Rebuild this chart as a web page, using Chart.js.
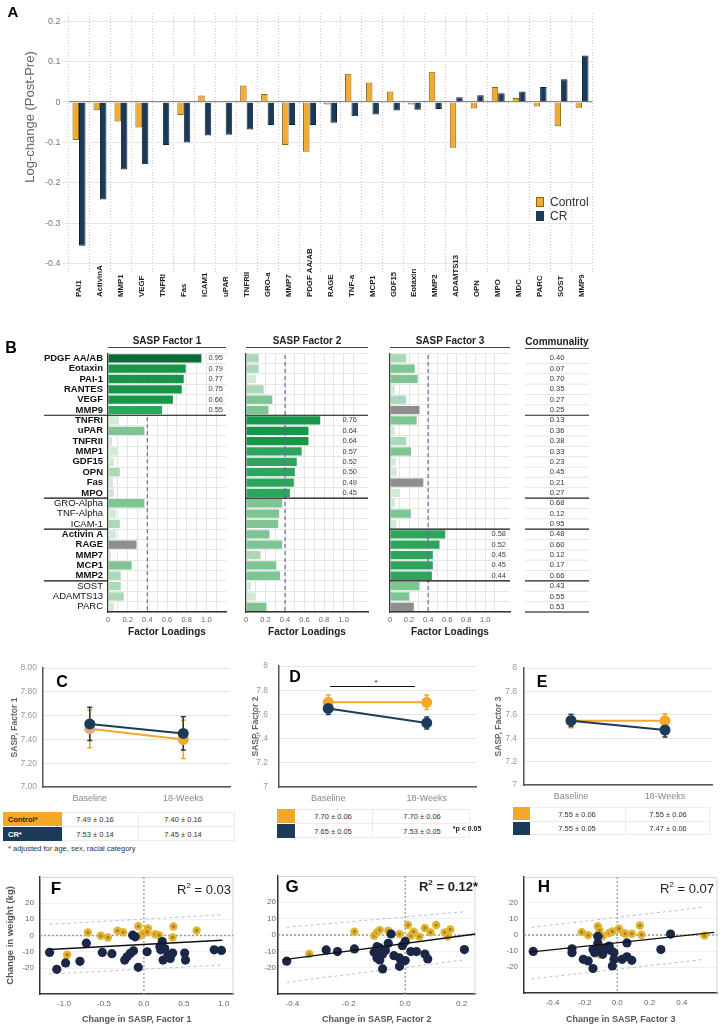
<!DOCTYPE html>
<html>
<head>
<meta charset="utf-8">
<title>SASP factors</title>
<script src="https://cdn.jsdelivr.net/npm/chart.js@4.4.1/dist/chart.umd.min.js"></script>
<style>
  body { margin: 0; background: #fff; font-family: "Liberation Sans", Arial, sans-serif; }
  #page { position: relative; width: 724px; height: 1027px; overflow: hidden; }
  #page canvas { position: absolute; }
  .t { position: absolute; white-space: nowrap; line-height: 1; }
  .b { position: absolute; box-sizing: border-box; }
  .head { position: absolute; font-weight: bold; font-size: 10px; color: #222; text-align: center;
          line-height: 12px; border-bottom: 1.5px solid #444; }
</style>
</head>
<body>
<div id="page">
  <canvas id="cA" width="724" height="310" style="left:0;top:0"></canvas>
  <canvas id="cB1" width="236" height="315" style="left:0;top:330px"></canvas>
  <canvas id="cB2" width="140" height="315" style="left:236px;top:330px"></canvas>
  <canvas id="cB3" width="230" height="315" style="left:376px;top:330px"></canvas>
  <canvas id="cC" width="240" height="160" style="left:0;top:650px"></canvas>
  <canvas id="cD" width="245" height="160" style="left:240px;top:650px"></canvas>
  <canvas id="cE" width="239" height="160" style="left:485px;top:650px"></canvas>
  <canvas id="cF" width="240" height="162" style="left:0;top:865px"></canvas>
  <canvas id="cG" width="242" height="162" style="left:240px;top:865px"></canvas>
  <canvas id="cH" width="242" height="162" style="left:482px;top:865px"></canvas>

  <div class="head" style="left:108px;top:335px;width:118px">SASP Factor 1</div>
  <div class="head" style="left:246px;top:335px;width:122px">SASP Factor 2</div>
  <div class="head" style="left:390px;top:335px;width:120px">SASP Factor 3</div>
  <div class="head" style="left:525px;top:336px;width:64px">Communality</div>
</div>
<script>
// ---- A: log-change per marker ----
const markers = ['PAI1', 'ActivinA', 'MMP1', 'VEGF', 'TNFRI', 'Fas', 'ICAM1', 'uPAR', 'TNFRII', 'GRO-a',
  'MMP7', 'PDGF AA/AB', 'RAGE', 'TNF-a', 'MCP1', 'GDF15', 'Eotaxin', 'MMP2', 'ADAMTS13', 'OPN',
  'MPO', 'MDC', 'PARC', 'SOST', 'MMP9'];
const changeControl = [-0.094, -0.020, -0.048, -0.063, 0.001, -0.032, 0.016, 0.002, 0.041, 0.020,
  -0.106, -0.123, -0.006, 0.070, 0.048, 0.026, -0.006, 0.075, -0.113, -0.016,
  0.037, 0.010, -0.011, -0.060, -0.014];
const changeCR = [-0.355, -0.241, -0.167, -0.154, -0.106, -0.100, -0.083, -0.081, -0.068, -0.057,
  -0.057, -0.057, -0.051, -0.035, -0.031, -0.021, -0.019, -0.017, 0.012, 0.017,
  0.022, 0.026, 0.037, 0.056, 0.115];
const changeTicks = [-0.4, -0.3, -0.2, -0.1, 0, 0.1, 0.2];

// ---- B: factor loadings (negative = inverse loading) ----
const rows = ['PDGF AA/AB', 'Eotaxin', 'PAI-1', 'RANTES', 'VEGF', 'MMP9',
  'TNFRI', 'uPAR', 'TNFRII', 'MMP1', 'GDF15', 'OPN', 'Fas', 'MPO',
  'GRO-Alpha', 'TNF-Alpha', 'ICAM-1',
  'Activin A', 'RAGE', 'MMP7', 'MCP1', 'MMP2',
  'SOST', 'ADAMTS13', 'PARC'];
const rowGroup = [1, 1, 1, 1, 1, 1, 2, 2, 2, 2, 2, 2, 2, 2, 3, 3, 3, 4, 4, 4, 4, 4, 5, 5, 5];
const factor1 = [0.95, 0.79, 0.77, 0.75, 0.66, 0.55,
  0.11, 0.37, -0.04, 0.10, 0.06, 0.12, 0.05, -0.06,
  0.37, 0.08, 0.12,
  0.08, -0.29, -0.03, 0.24, 0.13,
  0.13, 0.16, 0.06];
const factor2 = [0.13, 0.13, 0.09, 0.18, 0.27, 0.23,
  0.76, 0.64, 0.64, 0.57, 0.52, 0.50, 0.49, 0.45,
  0.37, 0.34, 0.33,
  0.24, 0.37, 0.15, 0.31, 0.35,
  0.05, 0.09, 0.21];
const factor3 = [0.17, 0.26, 0.29, 0.05, 0.17, -0.31,
  0.28, 0.05, 0.17, 0.22, 0.06, 0.07, -0.35, 0.10,
  0.05, 0.22, 0.07,
  0.58, 0.52, 0.45, 0.45, 0.44,
  0.31, 0.20, -0.25];
const communality = [0.40, 0.07, 0.70, 0.35, 0.27, 0.25, 0.13, 0.36, 0.38, 0.33, 0.23, 0.45, 0.21,
  0.27, 0.68, 0.12, 0.95, 0.48, 0.60, 0.12, 0.17, 0.66, 0.43, 0.55, 0.53];
const loadingTicks = [0, 0.2, 0.4, 0.6, 0.8, 1.0];

// ---- C-E: SASP factor means ± SE ----
const timepoints = ['Baseline', '18-Weeks'];
const sasp1Control = [7.49, 7.40], sasp1ControlSE = [0.16, 0.16];
const sasp1CR = [7.53, 7.45], sasp1CRSE = [0.14, 0.14];
const sasp2Control = [7.70, 7.70], sasp2ControlSE = [0.06, 0.06];
const sasp2CR = [7.65, 7.53], sasp2CRSE = [0.05, 0.05];
const sasp3Control = [7.55, 7.55], sasp3ControlSE = [0.06, 0.06];
const sasp3CR = [7.55, 7.47], sasp3CRSE = [0.05, 0.06];
const saspTicks = [7, 7.2, 7.4, 7.6, 7.8, 8];

// ---- F-H: change in weight vs change in SASP factor ----
const weightTicks = [-20, -10, 0, 10, 20];
const f1CR = [[-1.18, -10.4], [-1.09, -20.8], [-0.98, -16.9], [-0.80, -15.9], [-0.72, -4.7], [-0.52, -10.4],
  [-0.40, -11.2], [-0.24, -15.1], [-0.21, -13.1], [-0.17, -11.0], [-0.13, -9.4], [-0.14, 0.2], [-0.11, -0.8],
  [-0.07, -19.6], [0.04, -10.0], [0.20, -6.9], [0.23, -3.7], [0.21, -8.8], [0.26, -8.0], [0.24, -15.1],
  [0.30, -12.0], [0.33, -14.1], [0.36, -10.8], [0.51, -10.8], [0.52, -15.1], [0.88, -8.8], [0.97, -9.2]];
const f1Control = [[-0.96, -11.8], [-0.70, 1.8], [-0.54, -0.2], [-0.45, -1.2], [-0.33, 2.9], [-0.26, 2.0],
  [-0.07, 5.7], [0.05, 4.3], [-0.01, 1.2], [0.04, 2.2], [0.14, 0.8], [0.19, 0.2], [0.37, 5.5], [0.36, -1.2],
  [0.66, 3.1], [-0.06, -0.4]];
const f1Fit = [[-1.18, -8.6], [0.98, -2.9]];
const f1Upper = [[-1.18, 6.9], [0.98, 12.7]];
const f1Lower = [[-1.18, -23.7], [0.98, -18.2]];
const f1Ticks = [-1, -0.5, 0, 0.5, 1];

const f2CR = [[-0.42, -16.0], [-0.28, -9.1], [-0.24, -10.1], [-0.18, -8.5], [-0.11, -10.5], [-0.10, -7.1],
  [-0.10, -14.0], [-0.08, -11.6], [-0.08, -20.7], [-0.07, -9.5], [-0.06, -5.1], [-0.05, 0.6], [-0.04, -12.6],
  [-0.02, -14.0], [-0.02, -19.1], [-0.01, -6.5], [0.00, -15.6], [0.00, -3.9], [0.02, -10.1], [0.04, -10.1],
  [0.07, -11.6], [0.08, -14.6], [0.21, -8.9], [-0.09, -7.9], [-0.09, -15.2]];
const f2Control = [[-0.34, -11.6], [-0.18, 2.0], [-0.11, -0.4], [-0.10, 1.6], [-0.09, 3.0], [-0.06, 2.6],
  [-0.02, 0.6], [0.01, 6.1], [0.02, -0.4], [0.03, 2.0], [0.05, -1.0], [0.07, 4.3], [0.09, 1.6], [0.11, 6.1],
  [0.14, 1.6], [0.16, 3.4], [0.15, -1.0]];
const f2Fit = [[-0.435, -15.2], [0.25, 0.6]];
const f2Upper = [[-0.42, 4.7], [0.21, 14.2]];
const f2Lower = [[-0.42, -28.8], [0.21, -15.2]];
const f2Ticks = [-0.4, -0.2, 0, 0.2];

const f3CR = [[-0.52, -10.2], [-0.28, -8.6], [-0.28, -11.0], [-0.21, -15.1], [-0.18, -16.1], [-0.15, -20.8],
  [-0.15, -9.0], [-0.14, -11.0], [-0.12, -0.8], [-0.12, -4.9], [-0.11, -8.0], [-0.10, -10.0], [-0.09, -12.0],
  [-0.07, -8.0], [-0.05, -6.9], [-0.04, -9.6], [-0.02, -11.0], [-0.02, -15.1], [-0.03, -19.2], [0.03, -15.1],
  [0.06, -13.5], [0.09, -15.7], [0.06, -4.9], [0.27, -9.0], [0.33, 0.6]];
const f3Control = [[-0.22, 1.8], [-0.18, -0.2], [-0.12, 5.5], [-0.11, 2.9], [-0.09, -0.8], [-0.11, -12.0],
  [-0.05, 1.2], [-0.03, 2.2], [0.01, 3.9], [0.04, 1.2], [0.05, 0.8], [0.09, 0.8], [0.14, 5.9], [0.15, 0.2],
  [0.54, -0.4]];
const f3Fit = [[-0.54, -10.6], [0.60, 1.6]];
const f3Upper = [[-0.53, 4.7], [0.54, 17.3]];
const f3Lower = [[-0.53, -27.3], [0.54, -15.1]];
const f3Ticks = [-0.4, -0.2, 0, 0.2, 0.4];

// ---------------------------------------------------------------
const FONT = '"Liberation Sans", Arial, sans-serif';
const ORANGE = '#f3a82a', NAVY = '#1c3a5a';
Chart.defaults.font.family = FONT;
Chart.defaults.animation = false;
Chart.defaults.plugins.legend.display = false;
Chart.defaults.plugins.tooltip.enabled = false;

const page = document.getElementById('page');
const fitW = w => s => { s.width = w; };
const fitH = h => s => { s.height = h; };
const setTicks = list => s => { s.ticks = list.map(v => ({ value: v })); };

function place(html, x, y, css, anchor, rotate) {
  const d = document.createElement('div');
  d.className = 't';
  d.innerHTML = html;
  d.style.cssText = css;
  d.style.left = x + 'px';
  d.style.top = y + 'px';
  const tx = anchor === 'left' ? '0' : anchor === 'right' ? '-100%' : '-50%';
  d.style.transform = 'translate(' + tx + ',-50%)' + (rotate ? ' rotate(-90deg)' : '');
  page.appendChild(d);
}
function box(x, y, w, h, css) {
  const d = document.createElement('div');
  d.className = 'b';
  d.style.cssText = 'left:' + x + 'px;top:' + y + 'px;width:' + w + 'px;height:' + h + 'px;' + css;
  page.appendChild(d);
}
function hline(ctx, x0, x1, y) { ctx.beginPath(); ctx.moveTo(x0, y); ctx.lineTo(x1, y); ctx.stroke(); }

// ---------- A ----------
const rotatedLabels = {
  id: 'rotatedLabels',
  afterDraw(chart) {
    const { ctx, chartArea, scales: { x } } = chart;
    ctx.save();
    ctx.font = 'bold 7.8px ' + FONT;
    ctx.fillStyle = '#222';
    ctx.textAlign = 'left';
    ctx.textBaseline = 'middle';
    chart.data.labels.forEach((lab, i) => {
      ctx.save();
      ctx.translate(x.getPixelForValue(i), chartArea.bottom + 25);
      ctx.rotate(-Math.PI / 2);
      ctx.fillText(lab, 0, 0);
      ctx.restore();
    });
    ctx.restore();
  }
};

new Chart(document.getElementById('cA'), {
  type: 'bar',
  data: {
    labels: markers,
    datasets: [
      { label: 'Control', data: changeControl, backgroundColor: '#f2ab2f', borderColor: '#8a6516', borderWidth: 1,
        categoryPercentage: 0.62, barPercentage: 1 },
      { label: 'CR', data: changeCR, backgroundColor: '#1b3a57', borderColor: '#0f2438', borderWidth: 1,
        categoryPercentage: 0.62, barPercentage: 1 }
    ]
  },
  options: {
    responsive: false, devicePixelRatio: 1, events: [],
    layout: { padding: { top: 13, right: 131.5, left: 0, bottom: 0 } },
    scales: {
      x: { ticks: { display: false }, grid: { color: '#c9c9c9', drawTicks: false },
           border: { display: false, dash: [1, 2] }, afterFit: fitH(38) },
      y: { min: -0.42, max: 0.22, afterBuildTicks: setTicks(changeTicks),
           ticks: { padding: 2, color: '#777', font: { size: 9 } },
           grid: { color: c => (c.tick && c.tick.value === 0 ? '#8a8a8a' : '#e6e6e6'),
                   lineWidth: c => (c.tick && c.tick.value === 0 ? 1.3 : 1),
                   tickLength: 6, tickColor: '#e6e6e6' },
           border: { display: false }, afterFit: fitW(68.5) }
    }
  },
  plugins: [rotatedLabels]
});

// ---------- B ----------
function barColor(v, primary) {
  const a = Math.abs(v);
  if (v < 0) return a >= 0.2 ? '#8e8e8e' : '#d9dbe8';
  if (primary) return a >= 0.9 ? '#0b6a35' : a >= 0.6 ? '#17964a' : '#2ca65c';
  return a >= 0.2 ? '#7fc594' : a >= 0.12 ? '#abd8b7' : '#d0ead6';
}
const loadedGroups = [1, 2, 4];

const loadingsPlugin = {
  id: 'loadings',
  beforeDatasetsDraw(chart, args, o) { if (!o.dashOnTop) drawCutoff(chart, o); },
  afterDatasetsDraw(chart, args, o) {
    if (o.dashOnTop) drawCutoff(chart, o);
    const { ctx, chartArea: a, scales: { y } } = chart;
    const edge = i => (y.getPixelForValue(i - 1) + y.getPixelForValue(i)) / 2;
    const breaks = rowGroup.map((g, i) => i).filter(i => i > 0 && rowGroup[i] !== rowGroup[i - 1]);
    ctx.save();
    ctx.strokeStyle = '#111';
    ctx.lineWidth = 1.2;
    const first = rowGroup.indexOf(o.group), last = rowGroup.lastIndexOf(o.group);
    [first, last + 1].forEach(i => { if (i > 0 && i < rows.length) hline(ctx, a.left, a.right, edge(i)); });
    if (o.labels) breaks.forEach(i => hline(ctx, a.left - 64, a.left, edge(i)));
    ctx.font = '7.5px ' + FONT;
    ctx.fillStyle = '#444';
    ctx.textAlign = 'right';
    ctx.textBaseline = 'middle';
    const vals = chart.data.datasets[0].data;
    rows.forEach((r, i) => {
      if (rowGroup[i] === o.group) ctx.fillText(vals[i].toFixed(2), a.right - o.valueInset, y.getPixelForValue(i));
    });
    if (o.communality) {
      const x0 = a.right + 15, x1 = a.right + 79;
      rows.forEach((r, i) => {
        if (i > 0) {
          const major = breaks.includes(i);
          ctx.strokeStyle = major ? '#222' : '#e6e6e6';
          ctx.lineWidth = major ? 1.2 : 1;
          hline(ctx, x0, x1, edge(i));
        }
      });
      ctx.strokeStyle = '#555';
      ctx.lineWidth = 1.6;
      hline(ctx, x0, x1, a.bottom);
      ctx.textAlign = 'center';
      ctx.fillStyle = '#333';
      communality.forEach((c, i) => ctx.fillText(c.toFixed(2), a.right + 47, y.getPixelForValue(i)));
    }
    ctx.restore();
  }
};
function drawCutoff(chart, o) {
  const { ctx, chartArea: a, scales: { x, y } } = chart;
  const cx = x.getPixelForValue(0.4);
  const top = o.dashFrom ? (y.getPixelForValue(o.dashFrom - 1) + y.getPixelForValue(o.dashFrom)) / 2 + 2 : a.top + 2;
  ctx.save();
  ctx.strokeStyle = '#6b6aa3';
  ctx.lineWidth = 1.2;
  ctx.setLineDash([4, 3]);
  ctx.beginPath(); ctx.moveTo(cx, top); ctx.lineTo(cx, a.bottom); ctx.stroke();
  ctx.restore();
}

function loadingChart(id, values, group, xMax, extra) {
  return new Chart(document.getElementById(id), {
    type: 'bar',
    data: {
      labels: rows,
      datasets: [{ data: values.map(Math.abs), backgroundColor: values.map((v, i) => barColor(v, rowGroup[i] === group)),
                   barPercentage: 0.8, categoryPercentage: 1 }]
    },
    options: {
      responsive: false, devicePixelRatio: 1, events: [], indexAxis: 'y',
      layout: { padding: { top: 23.1, right: extra.padRight, left: 0, bottom: 0 } },
      scales: {
        x: { min: 0, max: xMax, afterBuildTicks: setTicks([0, 0.1, 0.2, 0.3, 0.4, 0.5, 0.6, 0.7, 0.8, 0.9, 1.0, 1.1]),
             ticks: { padding: 3, color: '#666', font: { size: 7.5 }, autoSkip: false, maxRotation: 0,
                      callback: v => (loadingTicks.includes(v) ? (v === 0 ? '0' : v.toFixed(1)) : '') },
             grid: { color: '#e4e4e4', drawTicks: false },
             border: { color: '#333', width: 1.5 },
             title: { display: true, text: 'Factor Loadings', color: '#222', font: { size: 10, weight: 'bold' },
                      padding: { top: 0, bottom: 7 } },
             afterFit: fitH(33) },
        y: { ticks: { display: !!extra.labels, autoSkip: false, color: '#111', padding: 5,
                      font: c => ({ size: 9.5, weight: loadedGroups.includes(rowGroup[c.index]) ? 'bold' : 'normal' }) },
             grid: { color: '#e6e6e6', drawTicks: false },
             border: { color: '#333', width: 1.2 },
             afterFit: fitW(extra.axisWidth) }
      },
      plugins: { loadings: Object.assign({ group }, extra) }
    },
    plugins: [loadingsPlugin]
  });
}
loadingChart('cB1', factor1, 1, 1.2, { labels: true, axisWidth: 108, padRight: 10, valueInset: 3,
  dashOnTop: true, dashFrom: rowGroup.lastIndexOf(1) + 1 });
loadingChart('cB2', factor2, 2, 1.25, { axisWidth: 10, padRight: 8, valueInset: 11, dashOnTop: true });
loadingChart('cB3', factor3, 4, 1.26, { axisWidth: 14, padRight: 96, valueInset: 4, dashOnTop: true, communality: true });

// ---------- C-E ----------
const errorBars = {
  id: 'errorBars',
  beforeDatasetsDraw(chart) {
    const { ctx, scales: { y } } = chart;
    ctx.save();
    chart.data.datasets.forEach((ds, di) => {
      const meta = chart.getDatasetMeta(di);
      ctx.strokeStyle = ds.borderColor;
      ctx.lineWidth = 1.5;
      ds.data.forEach((v, i) => {
        const px = meta.data[i].x;
        const t = y.getPixelForValue(v + ds.errors[i]), b = y.getPixelForValue(v - ds.errors[i]);
        ctx.beginPath();
        ctx.moveTo(px, t); ctx.lineTo(px, b);
        ctx.moveTo(px - 2.5, t); ctx.lineTo(px + 2.5, t);
        ctx.moveTo(px - 2.5, b); ctx.lineTo(px + 2.5, b);
        ctx.stroke();
      });
    });
    ctx.restore();
  }
};
function saspChart(id, control, controlSE, cr, crSE, o) {
  return new Chart(document.getElementById(id), {
    type: 'line',
    data: {
      labels: timepoints,
      datasets: [
        { data: control, errors: controlSE, borderColor: ORANGE, borderWidth: 2,
          pointBackgroundColor: o.controlPoints || ORANGE, pointBorderWidth: 0, pointRadius: 5.5, order: 2 },
        { data: cr, errors: crSE, borderColor: NAVY, borderWidth: 2,
          pointBackgroundColor: NAVY, pointBorderWidth: 0, pointRadius: 5.5, order: 1 }
      ]
    },
    options: {
      responsive: false, devicePixelRatio: 1, events: [],
      layout: { padding: { top: o.top, right: o.right, left: 0, bottom: 0 } },
      scales: {
        x: { offset: true, grid: { display: false, drawTicks: false }, border: { color: '#555', width: 1.5 },
             ticks: { color: '#888', font: { size: 9 }, padding: 6 }, afterFit: fitH(o.xh) },
        y: { min: 7, max: 8, afterBuildTicks: setTicks(saspTicks),
             ticks: { color: '#999', font: { size: 8.5 }, padding: o.tickPad, callback: o.fmt },
             grid: { color: '#e6e6e6', drawTicks: false },
             border: { color: '#555', width: 1.5 },
             title: { display: true, text: o.title, color: '#666', font: { size: 8.5, weight: 'bold' },
                      padding: { top: o.titlePad, bottom: 0 } },
             afterFit: fitW(o.yw) }
      }
    },
    plugins: [errorBars]
  });
}
saspChart('cC', sasp1Control, sasp1ControlSE, sasp1CR, sasp1CRSE,
  { title: 'SASP, Factor 1', yw: 43, right: 10, top: 18, xh: 23, titlePad: 10, tickPad: 6,
    fmt: v => v.toFixed(2), controlPoints: ['#e9a67c', ORANGE] });
saspChart('cD', sasp2Control, sasp2ControlSE, sasp2CR, sasp2CRSE,
  { title: 'SASP, Factor 2', yw: 39, right: 9, top: 15, xh: 23, titlePad: 11, tickPad: 11, fmt: v => String(v) });
saspChart('cE', sasp3Control, sasp3ControlSE, sasp3CR, sasp3CRSE,
  { title: 'SASP, Factor 3', yw: 39, right: 12, top: 18, xh: 25, titlePad: 9, tickPad: 7, fmt: v => String(v) });

// ---------- F-H ----------
const scatterFrame = {
  id: 'scatterFrame',
  beforeDatasetsDraw(chart) {
    const { ctx, chartArea: a, scales: { x, y } } = chart;
    const x0 = x.getPixelForValue(0), y0 = y.getPixelForValue(0);
    ctx.save();
    ctx.strokeStyle = '#d6d6d6';
    ctx.lineWidth = 1;
    ctx.beginPath(); ctx.moveTo(a.left, a.top + 0.5); ctx.lineTo(a.right - 0.5, a.top + 0.5); ctx.lineTo(a.right - 0.5, a.bottom); ctx.stroke();
    ctx.strokeStyle = '#9a9a9a';
    ctx.lineWidth = 1.3;
    ctx.setLineDash([2, 2]);
    ctx.beginPath(); ctx.moveTo(x0, a.top); ctx.lineTo(x0, a.bottom); ctx.moveTo(a.left, y0); ctx.lineTo(a.right, y0); ctx.stroke();
    ctx.restore();
  }
};
function scatterChart(id, o) {
  const pts = arr => arr.map(p => ({ x: p[0], y: p[1] }));
  const band = d => ({ data: pts(d), showLine: true, borderColor: '#b7c0da', borderWidth: 1, borderDash: [3, 3], pointRadius: 0, order: 3 });
  return new Chart(document.getElementById(id), {
    type: 'scatter',
    data: {
      datasets: [
        { data: pts(o.fit), showLine: true, borderColor: '#111', borderWidth: 1.4, pointRadius: 0, order: 0 },
        { data: pts(o.cr), pointBackgroundColor: '#1a2746', pointBorderWidth: 0, pointRadius: 4.6, order: 1 },
        { data: pts(o.control), pointBackgroundColor: '#9c8136', pointBorderColor: '#e3b42c', pointBorderWidth: 2.6,
          pointRadius: 2.9, order: 2 },
        band(o.upper), band(o.lower)
      ]
    },
    options: {
      responsive: false, devicePixelRatio: 1, events: [],
      layout: { padding: { top: o.top, right: o.right, left: 0, bottom: 0 } },
      scales: {
        x: { type: 'linear', min: o.xMin, max: o.xMax, afterBuildTicks: setTicks(o.xTicks),
             ticks: { color: '#666', font: { size: 8 }, padding: 5, callback: v => v.toFixed(1) },
             grid: { display: false, drawTicks: false }, border: { color: '#333', width: 1.5 },
             title: { display: true, text: o.xTitle, color: '#555', font: { size: 9, weight: 'bold' }, padding: { top: 0, bottom: 2 } },
             afterFit: fitH(o.xh) },
        y: { min: -36, max: 36, afterBuildTicks: setTicks(weightTicks),
             ticks: { color: '#666', font: { size: 8 }, padding: o.yPad },
             grid: { color: '#f0f0f0', drawTicks: false }, border: { color: '#333', width: 1.5 },
             title: { display: !!o.yTitle, text: o.yTitle || '', color: '#555', font: { size: 9.5, weight: 'bold' },
                      padding: { top: 5, bottom: 0 } },
             afterFit: fitW(o.yw) }
      }
    },
    plugins: [scatterFrame]
  });
}
scatterChart('cF', { cr: f1CR, control: f1Control, fit: f1Fit, upper: f1Upper, lower: f1Lower,
  xMin: -1.3, xMax: 1.12, xTicks: f1Ticks, xTitle: 'Change in SASP, Factor 1', yTitle: 'Change in weight (kg)',
  yw: 40, right: 2, top: 12, xh: 33, yPad: 6 });
scatterChart('cG', { cr: f2CR, control: f2Control, fit: f2Fit, upper: f2Upper, lower: f2Lower,
  xMin: -0.451, xMax: 0.249, xTicks: f2Ticks, xTitle: 'Change in SASP, Factor 2',
  yw: 38, right: 5, top: 11, xh: 33, yPad: 2 });
scatterChart('cH', { cr: f3CR, control: f3Control, fit: f3Fit, upper: f3Upper, lower: f3Lower,
  xMin: -0.577, xMax: 0.62, xTicks: f3Ticks, xTitle: 'Change in SASP, Factor 3',
  yw: 42, right: 2, top: 12, xh: 34, yPad: 6 });

// ---------- text, legend, tables ----------
const letter = s => 'font:bold ' + s + 'px ' + FONT + ';color:#000';
place('A', 13, 11, letter(15));
place('B', 11, 348, letter(16));
place('C', 62, 682, letter(16));
place('D', 295, 677, letter(16));
place('E', 542, 682, letter(16));
place('F', 56, 889, letter(17));
place('G', 292, 887, letter(17));
place('H', 544, 887, letter(17));

place('Log-change (Post-Pre)', 29, 117, 'font:13px ' + FONT + ';color:#666', 'center', true);
box(536, 197, 8, 10, 'background:#f2ab2f;border:1px solid #8a6516');
box(536, 211, 8, 10, 'background:#1b3a57');
place('Control', 550, 202, 'font:12px ' + FONT + ';color:#333', 'left');
place('CR', 550, 216, 'font:12px ' + FONT + ';color:#333', 'left');

const cellCss = 'font:7.5px ' + FONT + ';color:#333';
const fmtSE = (m, s) => m.toFixed(2) + ' ± ' + s.toFixed(2);
function saspTable(t) {
  box(t.x1, t.top - 0.5, t.x3 - t.x1, t.h * 2 + 2, 'background:#fff;border:1px solid #ececec;border-left:none');
  box(t.x1, t.top + t.h + 0.5, t.x3 - t.x1, 1, 'background:#ececec');
  box(t.x2, t.top - 0.5, 1, t.h * 2 + 2, 'background:#ececec');
  t.rows.forEach((r, k) => {
    const top = t.top + k * (t.h + 1.5);
    box(t.x0, top, t.x1 - t.x0, t.h, 'background:' + r.bg);
    if (r.label) place(r.label, t.x0 + 5, top + t.h / 2, 'font:bold 7.5px ' + FONT + ';color:' + r.ink, 'left');
    r.v.forEach((m, i) => place(fmtSE(m, r.se[i]), t.cols[i], top + t.h / 2, cellCss));
  });
}
saspTable({ x0: 3, x1: 62, x2: 138, x3: 235, top: 812, h: 13.5, cols: [95, 183], rows: [
  { bg: ORANGE, label: 'Control*', ink: '#2e1f00', v: sasp1Control, se: sasp1ControlSE },
  { bg: NAVY, label: 'CR*', ink: '#fff', v: sasp1CR, se: sasp1CRSE }] });
saspTable({ x0: 277, x1: 295, x2: 372, x3: 470, top: 809, h: 13.5, cols: [333, 422], rows: [
  { bg: ORANGE, v: sasp2Control, se: sasp2ControlSE },
  { bg: NAVY, v: sasp2CR, se: sasp2CRSE }] });
saspTable({ x0: 513, x1: 530, x2: 625, x3: 710, top: 807, h: 13, cols: [577, 668], rows: [
  { bg: ORANGE, v: sasp3Control, se: sasp3ControlSE },
  { bg: NAVY, v: sasp3CR, se: sasp3CRSE }] });
place('* adjusted for age, sex, racial category', 8, 848, 'font:7.5px ' + FONT + ';color:#333', 'left');
place('*p &lt; 0.05', 467, 828, 'font:bold 7px ' + FONT + ';color:#222');

// significance bracket in D
box(330, 686, 85, 1.2, 'background:#111');
place('*', 376, 682, 'font:8px ' + FONT + ';color:#222');

const r2Css = 'font:13px ' + FONT + ';color:#222';
place('R<sup style="font-size:8px">2</sup> = 0.03', 231, 889, r2Css, 'right');
place('R<sup style="font-size:8px">2</sup> = 0.12*', 478, 886, r2Css + ';font-weight:bold', 'right');
place('R<sup style="font-size:8px">2</sup> = 0.07', 714, 888, r2Css, 'right');
</script>
</body>
</html>
